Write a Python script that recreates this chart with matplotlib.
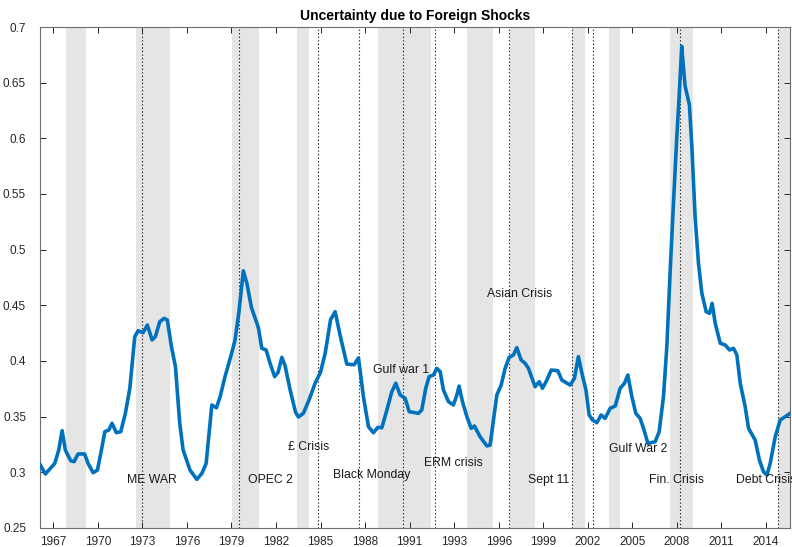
import matplotlib
matplotlib.use("Agg")
import matplotlib.pyplot as plt

plt.rcParams['font.family'] = ['Liberation Sans', 'DejaVu Sans']

years = [1966.98, 1967.33, 1967.94, 1968.20, 1968.42, 1968.63, 1968.98, 1969.20, 1969.46, 1969.89,
         1970.11, 1970.44, 1970.72, 1970.98, 1971.20, 1971.46, 1971.67, 1971.95, 1972.24, 1972.54,
         1972.83, 1973.15, 1973.37, 1973.69, 1973.97, 1974.28, 1974.49, 1974.78, 1975.06, 1975.27,
         1975.54, 1975.80, 1976.08, 1976.30, 1976.75, 1977.19, 1977.52, 1977.80, 1978.17, 1978.47,
         1978.71, 1979.03, 1979.36, 1979.67, 1979.93, 1980.22, 1980.45, 1980.75, 1981.20, 1981.42,
         1981.70, 1981.96, 1982.26, 1982.48, 1982.73, 1982.94, 1983.27, 1983.62, 1983.81, 1984.13,
         1984.50, 1984.89, 1985.25, 1985.55, 1985.90, 1986.20, 1986.52, 1986.96, 1987.44, 1987.72,
         1988.04, 1988.37, 1988.69, 1988.98, 1989.24, 1989.57, 1989.89, 1990.15, 1990.43, 1990.76,
         1991.02, 1991.62, 1991.84, 1992.10, 1992.32, 1992.60, 1992.82, 1993.04, 1993.25, 1993.58,
         1993.90, 1994.13, 1994.27, 1994.49, 1994.78, 1995.06, 1995.27, 1995.64, 1996.08, 1996.29,
         1996.51, 1996.73, 1997.01, 1997.27, 1997.53, 1997.81, 1998.03, 1998.31, 1998.57, 1998.79,
         1999.22, 1999.49, 1999.70, 1999.99, 2000.27, 2000.70, 2000.96, 2001.50, 2001.78, 2002.04,
         2002.27, 2002.53, 2002.74, 2002.96, 2003.24, 2003.52, 2003.78, 2004.11, 2004.44, 2004.76,
         2005.04, 2005.26, 2005.52, 2005.78, 2006.06, 2006.28, 2006.57, 2007.04, 2007.30, 2007.58,
         2007.80, 2008.02, 2008.23, 2008.45, 2008.60, 2008.77, 2008.86, 2008.99, 2009.27, 2009.43,
         2009.64, 2009.86, 2010.08, 2010.36, 2010.58, 2010.75, 2010.95, 2011.28, 2011.60, 2011.88,
         2012.14, 2012.36, 2012.58, 2012.90, 2013.12, 2013.55, 2013.83, 2014.09, 2014.32, 2014.53,
         2014.86, 2015.18, 2015.51, 2015.83]

values = [0.307, 0.2985, 0.308, 0.320, 0.3374, 0.320, 0.3104, 0.3096, 0.3165, 0.3165,
          0.308, 0.2997, 0.302, 0.320, 0.3365, 0.338, 0.344, 0.3356, 0.3365, 0.353,
          0.3755, 0.4218, 0.4272, 0.4254, 0.4323, 0.4189, 0.4218, 0.4353, 0.4383, 0.4368,
          0.4128, 0.3949, 0.344, 0.320, 0.302, 0.2937, 0.299, 0.308, 0.3605, 0.358,
          0.368, 0.386, 0.402, 0.418, 0.4435, 0.481, 0.4698, 0.448, 0.430, 0.4114,
          0.410, 0.398, 0.386, 0.3897, 0.4033, 0.3957, 0.3739, 0.354, 0.3497, 0.353,
          0.365, 0.3799, 0.390, 0.4069, 0.437, 0.4443, 0.4233, 0.3972, 0.3967, 0.4028,
          0.368, 0.341, 0.3356, 0.3404, 0.340, 0.356, 0.3724, 0.380, 0.3695, 0.3665,
          0.3545, 0.353, 0.356, 0.3755, 0.386, 0.3874, 0.3934, 0.3904, 0.374, 0.3635,
          0.3605, 0.3695, 0.3775, 0.3635, 0.350, 0.3395, 0.3416, 0.332, 0.3237, 0.3245,
          0.347, 0.3695, 0.3784, 0.3934, 0.4033, 0.4054, 0.412, 0.4009, 0.3979, 0.3934,
          0.3769, 0.3814, 0.3755, 0.3829, 0.3919, 0.3913, 0.3829, 0.3784, 0.3844, 0.4039,
          0.389, 0.374, 0.3515, 0.347, 0.3446, 0.3515, 0.3485, 0.3575, 0.3596, 0.3755,
          0.380, 0.3874, 0.368, 0.353, 0.3485, 0.3395, 0.326, 0.3275, 0.3365, 0.368,
          0.4128, 0.4817, 0.5416, 0.6015, 0.6374, 0.6826, 0.667, 0.647, 0.630, 0.5925,
          0.5296, 0.4877, 0.4608, 0.4443, 0.4428, 0.4518, 0.4338, 0.4159, 0.4144, 0.4099,
          0.4114, 0.4054, 0.3799, 0.359, 0.3395, 0.329, 0.311, 0.3006, 0.2976, 0.3081,
          0.332, 0.347, 0.350, 0.353]

band_starts = [1968.68, 1973.24, 1979.49, 1983.74, 1989.00, 1994.78, 1997.60, 2001.65, 2004.05, 2008.02, 2015.03]
band_ends = [1969.96, 1975.45, 1981.23, 1984.49, 1992.45, 1996.47, 1999.23, 2002.48, 2004.76, 2009.50, 2015.90]

event_dates = [1973.63, 1979.97, 1985.07, 1987.74, 1990.65, 1992.69, 1997.51, 2001.65, 2003.02, 2008.67, 2015.03]

label_texts = ['ME WAR', 'OPEC 2', '£ Crisis', 'Black Monday', 'Gulf war 1', 'ERM crisis',
               'Asian Crisis', 'Sept 11', 'Gulf War 2', 'Fin. Crisis', 'Debt Crisis']
label_x = [1972.63, 1980.55, 1983.13, 1986.07, 1988.69, 1992.01, 1996.12, 1998.79, 2004.06, 2006.65, 2012.32]
label_y = [0.293, 0.293, 0.3227, 0.2976, 0.3919, 0.3084, 0.4602, 0.293, 0.3209, 0.293, 0.293]

xtick_pos = [1967.85 + 2.9 * k for k in range(17)]
xtick_labels = ['1967', '1970', '1973', '1976', '1979', '1982', '1985', '1988', '1991', '1993',
                '1996', '1999', '2002', '2005', '2008', '2011', '2014']
ytick_pos = [0.25, 0.3, 0.35, 0.4, 0.45, 0.5, 0.55, 0.6, 0.65, 0.7]
ytick_labels = ['0.25', '0.3', '0.35', '0.4', '0.45', '0.5', '0.55', '0.6', '0.65', '0.7']

fig = plt.figure(figsize=(7.92, 5.47), dpi=100)
ax = fig.add_axes([40 / 792, 1 - 528 / 547, 750 / 792, 501 / 547])

for s, e in zip(band_starts, band_ends):
    ax.axvspan(s, e, color='#e5e5e5', lw=0, zorder=0)
for d in event_dates:
    ax.axvline(d, color='k', ls=(0, (1, 2.2)), lw=0.8, zorder=1)

ax.plot(years, values, color='#0072BD', lw=2.6, zorder=3, solid_joinstyle='round')

for t, x, y in zip(label_texts, label_x, label_y):
    ax.text(x, y, t, ha='left', va='center', fontsize=8.8, color='#1a1a1a', zorder=4)

ax.set_xlim(1966.98, 2015.82)
ax.set_ylim(0.25, 0.7)
ax.set_xticks(xtick_pos)
ax.set_xticklabels(xtick_labels)
ax.set_yticks(ytick_pos)
ax.set_yticklabels(ytick_labels)
ax.tick_params(direction='in', length=4, width=0.7, top=True, right=True,
               labelsize=8.5, colors='#262626')
ax.tick_params(axis='x', pad=6)
ax.tick_params(axis='y', pad=10)
for sp in ax.spines.values():
    sp.set_color('#6e6e6e')
    sp.set_linewidth(0.8)
ax.set_title('Uncertainty due to Foreign Shocks', fontsize=10, fontweight='bold', pad=5)

fig.savefig('out.png', dpi=100)
